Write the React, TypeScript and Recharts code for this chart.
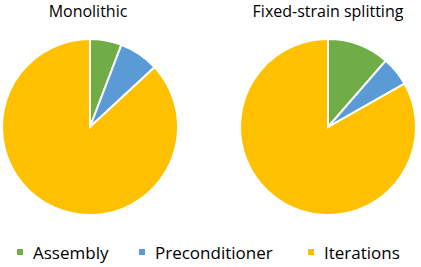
import { PieChart, Pie, Cell } from "recharts";

const categories = ["Assembly", "Preconditioner", "Iterations"];
const colors = ["#70AD47", "#5B9BD5", "#FFC000"];
const monolithic = [5.8, 7.3, 86.9];
const fixedStrain = [11.4, 5.4, 83.2];
const titles = ["Monolithic", "Fixed-strain splitting"];

const font = "'Open Sans', sans-serif";

function toRows(values: number[]) {
  return categories.map((name, i) => ({ name, value: values[i] }));
}

export default function App() {
  const pies = [
    { data: toRows(monolithic), cx: 90, title: titles[0], tx: 88 },
    { data: toRows(fixedStrain), cx: 328, title: titles[1], tx: 328 },
  ];
  const legendX = [17, 139, 308];

  return (
    <div style={{ position: "absolute", left: 0, top: 0, width: 421, height: 267, background: "#fff" }}>
      <PieChart width={421} height={267} margin={{ top: 0, right: 0, bottom: 0, left: 0 }}>
        {pies.map((p) => (
          <Pie
            key={p.title}
            data={p.data}
            dataKey="value"
            nameKey="name"
            cx={p.cx}
            cy={127}
            outerRadius={88}
            startAngle={90}
            endAngle={-270}
            stroke="#fff"
            strokeWidth={2}
            isAnimationActive={false}
          >
            {p.data.map((d, i) => (
              <Cell key={d.name} fill={colors[i]} />
            ))}
          </Pie>
        ))}
        {pies.map((p) => (
          <text
            key={"t" + p.title}
            x={p.tx}
            y={17}
            textAnchor="middle"
            fontFamily={font}
            fontSize={16}
            fill="#000"
          >
            {p.title}
          </text>
        ))}
        {categories.map((c, i) => (
          <g key={"l" + c}>
            <rect x={legendX[i]} y={249} width={6} height={6} fill={colors[i]} />
            <text x={legendX[i] + 16} y={259} fontFamily={font} fontSize={17} fill="#000">
              {c}
            </text>
          </g>
        ))}
      </PieChart>
    </div>
  );
}
